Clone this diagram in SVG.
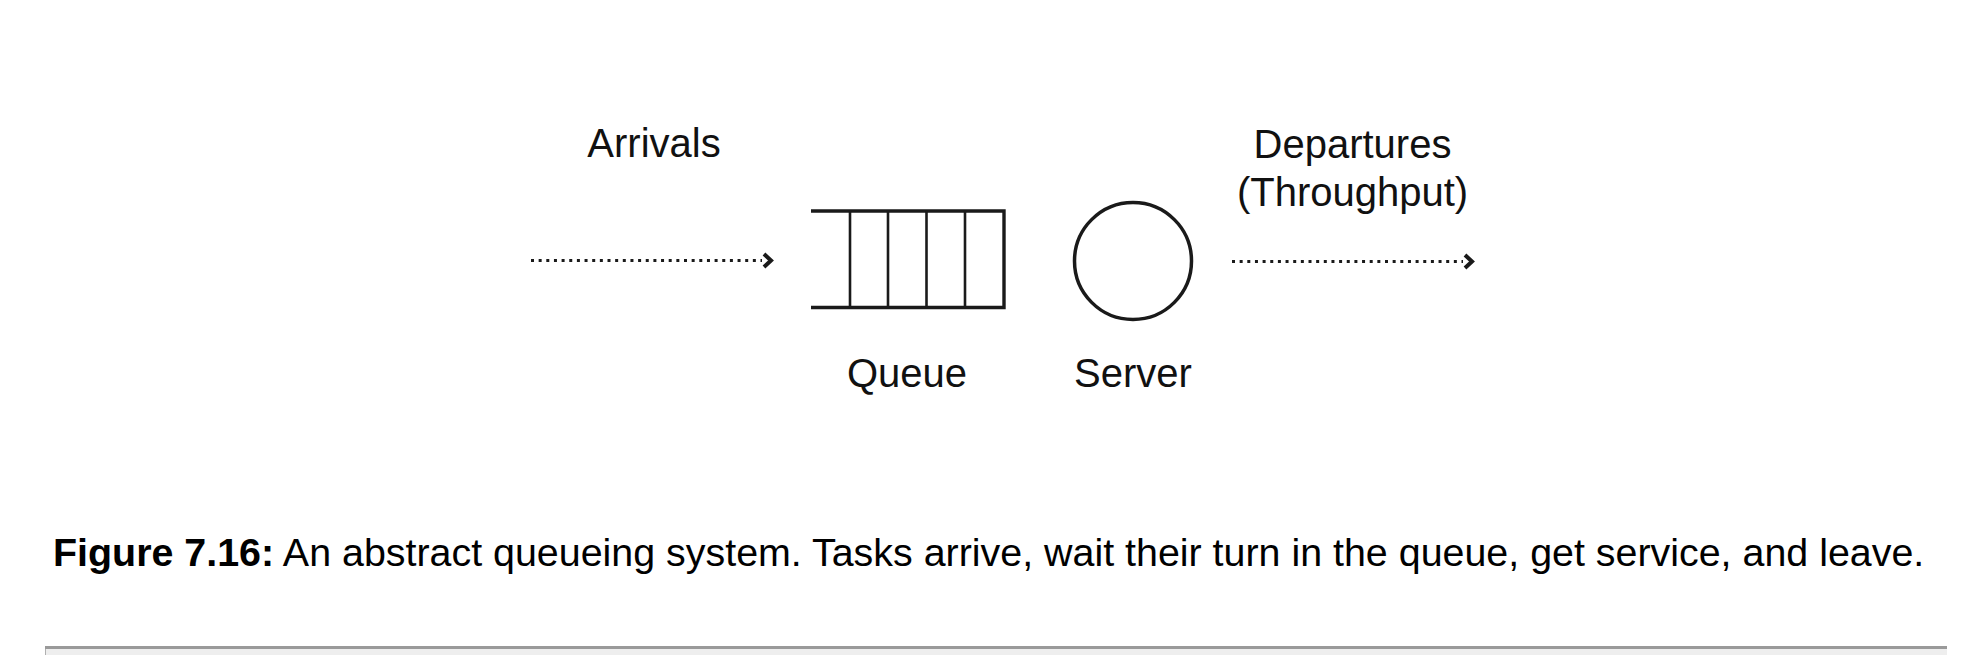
<svg xmlns="http://www.w3.org/2000/svg" width="1982" height="658" viewBox="0 0 1982 658">
<style>
  .lbl { font-family: "Liberation Sans", Arial, sans-serif; font-size: 40px; fill: #111; text-anchor: middle; }
  .cap { font-family: "Liberation Sans", Arial, sans-serif; font-size: 39.4px; fill: #000; }
  .shape { fill: none; stroke: #1a1a1a; }
  .dots { fill: none; stroke: #1a1a1a; stroke-width: 3; stroke-dasharray: 3 4.65; }
  .head { fill: none; stroke: #1a1a1a; stroke-width: 4; stroke-linejoin: miter; }
</style>
<rect width="1982" height="658" fill="#fff"/>
<g id="connectors">
  <g id="arrivals-arrow">
    <line class="dots" x1="531" y1="260.5" x2="762" y2="260.5"/>
    <polyline class="head" points="764,254 771,260.5 764,267"/>
  </g>
  <g id="departures-arrow">
    <line class="dots" x1="1232" y1="261.5" x2="1463" y2="261.5"/>
    <polyline class="head" points="1465,255 1472,261.5 1465,268"/>
  </g>
</g>
<g id="arrivals">
  <text class="lbl" x="654" y="157">Arrivals</text>
</g>
<g id="queue">
  <polyline class="shape" stroke-width="3.4" points="811,211 1004,211 1004,307.5 811,307.5"/>
  <line class="shape" stroke-width="2.6" x1="850" y1="211" x2="850" y2="307.5"/>
  <line class="shape" stroke-width="2.6" x1="888" y1="211" x2="888" y2="307.5"/>
  <line class="shape" stroke-width="2.6" x1="926.5" y1="211" x2="926.5" y2="307.5"/>
  <line class="shape" stroke-width="2.6" x1="965" y1="211" x2="965" y2="307.5"/>
  <text class="lbl" x="907" y="387">Queue</text>
</g>
<g id="server">
  <circle class="shape" stroke-width="3.5" cx="1133" cy="261" r="58.5"/>
  <text class="lbl" x="1133" y="387">Server</text>
</g>
<g id="departures">
  <text class="lbl" x="1352.5" y="158">Departures</text>
  <text class="lbl" x="1352.5" y="206">(Throughput)</text>
</g>
<g id="caption">
  <text class="cap" x="53" y="566"><tspan font-weight="bold">Figure 7.16:</tspan> An abstract queueing system. Tasks arrive, wait their turn in the queue, get service, and leave.</text>
</g>
<g id="rule">
  <rect x="45" y="646" width="1902" height="3" fill="#9a9a9a"/>
  <rect x="45" y="649" width="1902" height="6" fill="#eeeeee"/>
  <rect x="45" y="649" width="1" height="6" fill="#b0b0b0"/>
</g>
</svg>
